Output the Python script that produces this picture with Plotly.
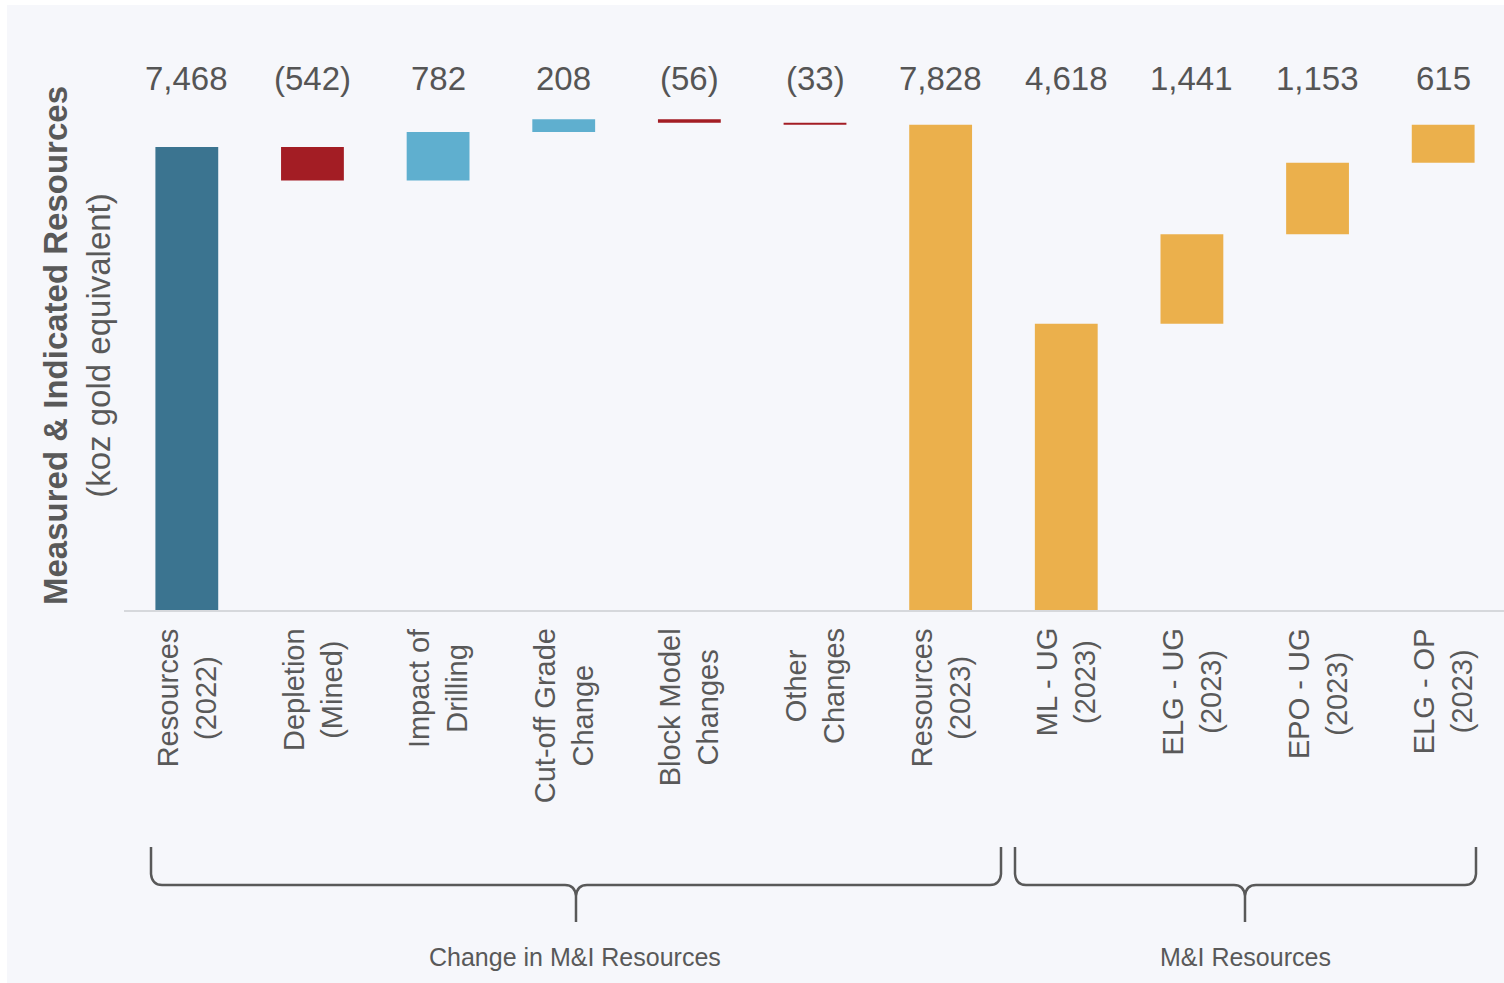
import plotly.graph_objects as go

# ---- data ----
categories = ["Resources<br>(2022)", "Depletion<br>(Mined)", "Impact of<br>Drilling",
              "Cut-off Grade<br>Change", "Block Model<br>Changes", "Other<br>Changes",
              "Resources<br>(2023)", "ML - UG<br>(2023)", "ELG - UG<br>(2023)",
              "EPO - UG<br>(2023)", "ELG - OP<br>(2023)"]
values = [7468, -542, 782, 208, -56, -33, 7828, 4618, 1441, 1153, 615]
kinds = ["total", "delta", "delta", "delta", "delta", "delta", "total",
         "part", "part", "part", "part"]
value_labels = ["7,468", "(542)", "782", "208", "(56)", "(33)", "7,828",
                "4,618", "1,441", "1,153", "615"]
group_labels = ["Change in M&I Resources", "M&I Resources"]
y_title_line1 = "Measured & Indicated Resources"
y_title_line2 = "(koz gold equivalent)"

# ---- styles ----
TEAL = "#3B7490"
RED = "#A31D24"
LBLUE = "#5FAFCF"
GOLD = "#EBB04C"
TXT = "#595959"
PANEL = "#F6F7FB"
FONT = "Liberation Sans, Arial, sans-serif"

W, H = 1506, 983
L, R, T, B = 124, 0, 60, 373
PW, PH = W - L - R, H - T - B

# compute bases for floating bars
bases, heights, colors = [], [], []
running = 0
part_run = 0
for i, (v, k) in enumerate(zip(values, kinds)):
    if k == "total":
        bases.append(0)
        heights.append(v)
        colors.append(TEAL if i == 0 else GOLD)
        running = v
        part_run = 0
    elif k == "delta":
        if v >= 0:
            bases.append(running)
            heights.append(v)
            colors.append(LBLUE)
        else:
            bases.append(running + v)
            heights.append(-v)
            colors.append(RED)
        running += v
    else:
        bases.append(part_run)
        heights.append(v)
        colors.append(GOLD)
        part_run += v

x_idx = list(range(len(categories)))

fig = go.Figure()
fig.add_trace(go.Bar(
    x=x_idx, y=heights, base=bases, width=0.5,
    marker=dict(color=colors, line=dict(width=0)),
    hoverinfo="skip", showlegend=False,
))

def px(x):
    return (x - L) / PW

def py(y):
    return (H - B - y) / PH

annotations = []
# value labels
for i, lab in enumerate(value_labels):
    annotations.append(dict(x=i, y=py(78), xref="x", yref="paper", text=lab,
                            showarrow=False, xanchor="center", yanchor="middle",
                            font=dict(size=33, color="#555555", family=FONT)))
# category labels (rotated, centered lines)
for i, lab in enumerate(categories):
    annotations.append(dict(x=i, y=py(626), xref="x", yref="paper", text=lab,
                            showarrow=False, textangle=-90, align="center",
                            xanchor="center", yanchor="top",
                            font=dict(size=29, color=TXT, family=FONT)))
# y-axis title
annotations.append(dict(x=px(77), y=py(346), xref="paper", yref="paper",
                        text="<b>" + y_title_line1 + "</b><br>" + y_title_line2,
                        showarrow=False, textangle=-90, align="center",
                        xanchor="center", yanchor="middle",
                        font=dict(size=33, color=TXT, family=FONT)))
# group labels
annotations.append(dict(x=px(575), y=py(957), xref="paper", yref="paper",
                        text=group_labels[0], showarrow=False,
                        xanchor="center", yanchor="middle",
                        font=dict(size=25, color=TXT, family=FONT)))
annotations.append(dict(x=px(1245), y=py(957), xref="paper", yref="paper",
                        text=group_labels[1], showarrow=False,
                        xanchor="center", yanchor="middle",
                        font=dict(size=25, color=TXT, family=FONT)))

def brace(x0, x1, xm, ytop, ymid, ytip, r=11):
    p = lambda x, y: f"{px(x):.5f},{py(y):.5f}"
    d = (f"M {p(x0, ytop)} L {p(x0, ymid - r)} Q {p(x0 + 1, ymid)} {p(x0 + r, ymid)} "
         f"L {p(xm - r, ymid)} Q {p(xm - 1, ymid)} {p(xm, ymid + r)} L {p(xm, ytip)} "
         f"M {p(xm, ymid + r)} Q {p(xm + 1, ymid)} {p(xm + r, ymid)} "
         f"L {p(x1 - r, ymid)} Q {p(x1 - 1, ymid)} {p(x1, ymid - r)} L {p(x1, ytop)}")
    return dict(type="path", path=d, xref="paper", yref="paper",
                line=dict(color=TXT, width=2.5))

shapes = [
    dict(type="rect", xref="paper", yref="paper", x0=px(7), x1=px(W + 5),
         y0=py(5), y1=py(H + 5), fillcolor=PANEL, line=dict(width=0), layer="below"),
    brace(151, 1001, 576, 847, 885, 922),
    brace(1015, 1476, 1245, 847, 885, 922),
]

fig.update_layout(
    width=W, height=H,
    margin=dict(l=L, r=R, t=T, b=B),
    paper_bgcolor="white", plot_bgcolor="rgba(0,0,0,0)",
    xaxis=dict(range=[-0.5, len(categories) - 0.5], showticklabels=False,
               showgrid=False, zeroline=False, showline=True,
               linecolor="#D6D8DC", linewidth=2, ticks=""),
    yaxis=dict(range=[0, PH / 0.0620], visible=False, showgrid=False, zeroline=False),
    annotations=annotations, shapes=shapes,
    bargap=0.5,
)

fig.write_html("out.html", config={"displayModeBar": False},
               post_script="document.body.style.margin='0px';document.body.style.overflow='hidden';")
